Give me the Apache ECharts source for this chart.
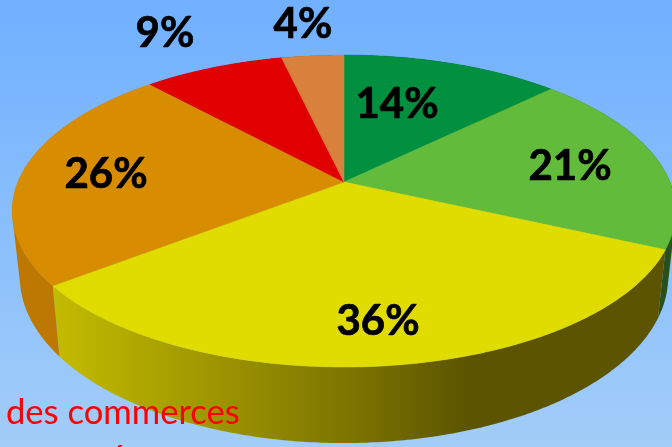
<!DOCTYPE html>
<html><head><meta charset="utf-8">
<style>html,body{margin:0;padding:0;background:#80b8fc}#c{width:672px;height:447px}</style>
<script src="https://cdn.jsdelivr.net/npm/echarts@6/dist/echarts.min.js"></script>
</head><body><div id="c"></div>
<script>
var percentLabels = ['14%','21%','36%','26%','9%','4%'];
var sliceValues = [14,21,36,26,9,4];
var topColors = ['#009040','#62BB3A','#E0DC00','#D88C00','#E00000','#D8803C'];
var wallStops = [
  [[0,'#00401c'],[1,'#00401c']],
  [[0,'#28501c'],[1,'#28501c']],
  [[0,'#c4bc00'],[0.483,'#807800'],[0.711,'#5c5400'],[1,'#5c5400']],
  [[0,'#bc7800'],[1,'#bc7800']],
  [[0,'#700000'],[1,'#700000']],
  [[0,'#6c4020'],[1,'#6c4020']]
];
var captionLines = ['des commerces','é'];
var labelAnchors = [[397,104],[570,166],[378,321],[106,174],[165,33],[303,24]];

var total = sliceValues.reduce(function(a,b){return a+b;},0);
var P = {cx:344, cy:182, w:326, a:150.6, k:0.186, sx:0.977, sy:1.065, by:246};
function project(t, bottom){
  var u=Math.sin(t), v=Math.cos(t), d=1+P.k*v;
  var x=P.w*u/d, y=-P.a*v/d;
  return bottom ? [P.cx+x*P.sx, P.by+y*P.sy] : [P.cx+x, P.cy+y];
}
function arc(t0,t1,bottom){
  var n=Math.max(4,Math.ceil((t1-t0)/0.01)), pts=[];
  for(var i=0;i<=n;i++) pts.push(project(t0+(t1-t0)*i/n,bottom));
  return pts;
}
function bounds(i){
  var s=0; for(var j=0;j<i;j++) s+=sliceValues[j];
  return [s/total*2*Math.PI,(s+sliceValues[i])/total*2*Math.PI];
}
// the wall as one path: the strip of quads between the upper and lower rim,
// each wound the same way so that overlapping quads at the fold do not cancel
function wallPath(t0,t1){
  var a=arc(t0,t1,false), b=arc(t0,t1,true), d='';
  function f(p){return p[0].toFixed(2)+' '+p[1].toFixed(2);}
  for(var i=0;i<a.length-1;i++){
    var q=[a[i],a[i+1],b[i+1],b[i]], area=0;
    for(var j=0;j<4;j++){var m=q[j],n=q[(j+1)%4];area+=m[0]*n[1]-n[0]*m[1];}
    if(area<0) q.reverse();
    d+='M'+f(q[0])+'L'+f(q[1])+'L'+f(q[2])+'L'+f(q[3])+'Z';
  }
  return d;
}
var seriesIdx = sliceValues.map(function(v,i){return [i,v];});
var chart = echarts.init(document.getElementById('c'));
chart.setOption({
  animation:false,
  backgroundColor:{type:'linear',x:0,y:0,x2:0,y2:1,colorStops:[{offset:0,color:'#70B0FF'},{offset:1,color:'#A2CDF8'}]},
  series:[
    {type:'custom',coordinateSystem:'none',z:1,silent:true,data:seriesIdx,
     renderItem:function(p,api){
       var i=api.value(0), b=bounds(i);
       return {type:'path',shape:{pathData:wallPath(b[0],b[1])},style:{
         fill:{type:'linear',global:true,x:52,y:0,x2:640,y2:0,
           colorStops:wallStops[i].map(function(s){return {offset:s[0],color:s[1]};})},
         stroke:null}};
     }},
    {type:'custom',coordinateSystem:'none',z:2,silent:true,data:seriesIdx,
     renderItem:function(p,api){
       var i=api.value(0), b=bounds(i);
       var pts=[[P.cx,P.cy]].concat(arc(b[0],b[1],false));
       return {type:'polygon',shape:{points:pts},style:{fill:topColors[i],stroke:topColors[i],lineWidth:0.5}};
     }},
    {type:'custom',coordinateSystem:'none',z:3,silent:true,data:seriesIdx,
     renderItem:function(p,api){
       var i=api.value(0), a=labelAnchors[i];
       return {type:'text',style:{x:a[0],y:a[1],text:percentLabels[i],fill:'#000',stroke:'#000',lineWidth:0.7,
         font:'bold 42px Lato',align:'center',verticalAlign:'middle'}};
     }}
  ],
  graphic:[{type:'text',z:10,left:6,top:395,style:{text:captionLines[0],fill:'#FF0000',font:'34.6px Lato'}},
           {type:'text',z:10,x:108,y:441,style:{text:captionLines[1],fill:'#FF0000',font:'34.6px Lato'}}]
});
</script></body></html>
